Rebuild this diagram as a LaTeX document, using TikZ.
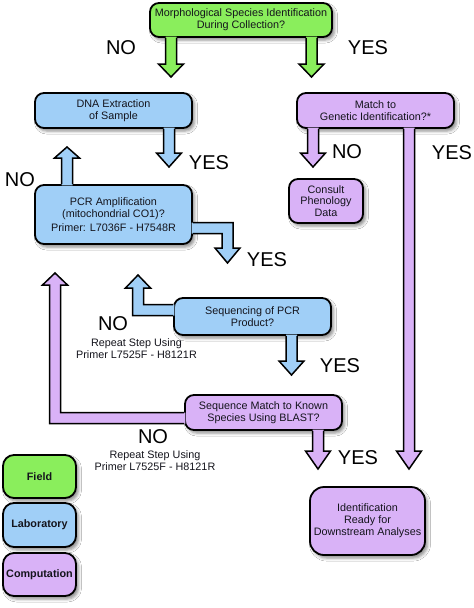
\documentclass[tikz,border=0pt]{standalone}
\usepackage{fontspec}
\setmainfont{Liberation Sans}
\usetikzlibrary{calc,shadows.blur}
\definecolor{fgreen}{RGB}{138,238,92}
\definecolor{lblue}{RGB}{160,207,247}
\definecolor{cpurple}{RGB}{217,178,247}
\definecolor{txt}{RGB}{20,20,28}
\newcommand\boxfont{\fontsize{10.8}{11.8}\selectfont}
\def\sw{5.5pt}
\def\hw{12.5pt}
% straight down arrow: colour, start, tip, head length
\newcommand\darr[4]{%
 \fill[#1] let \p1=(#2), \p2=(#3) in
 (\x2-\sw,\y1+1.2pt) -- (\x2-\sw,\y2+#4) -- (\x2-\hw,\y2+#4) -- (\x2,\y2) -- (\x2+\hw,\y2+#4) -- (\x2+\sw,\y2+#4) -- (\x2+\sw,\y1+1.2pt) -- cycle;
 \draw[aline] let \p1=(#2), \p2=(#3) in
 (\x2-\sw,\y1) -- (\x2-\sw,\y2+#4) -- (\x2-\hw,\y2+#4) -- (\x2,\y2) -- (\x2+\hw,\y2+#4) -- (\x2+\sw,\y2+#4) -- (\x2+\sw,\y1);}
% straight up arrow
\newcommand\uarr[4]{%
 \fill[#1] let \p1=(#2), \p2=(#3) in
 (\x2-\sw,\y1-1.2pt) -- (\x2-\sw,\y2-#4) -- (\x2-\hw,\y2-#4) -- (\x2,\y2) -- (\x2+\hw,\y2-#4) -- (\x2+\sw,\y2-#4) -- (\x2+\sw,\y1-1.2pt) -- cycle;
 \draw[aline] let \p1=(#2), \p2=(#3) in
 (\x2-\sw,\y1) -- (\x2-\sw,\y2-#4) -- (\x2-\hw,\y2-#4) -- (\x2,\y2) -- (\x2+\hw,\y2-#4) -- (\x2+\sw,\y2-#4) -- (\x2+\sw,\y1);}
% right then down: colour, start, bend, tip, head length
\newcommand\rdarr[5]{%
 \fill[#1] let \p1=(#2), \p2=(#3), \p3=(#4) in
 (\x1-1.2pt,\y2+\sw) -- (\x2+\sw,\y2+\sw) -- (\x2+\sw,\y3+#5) -- (\x2+\hw,\y3+#5) -- (\x3,\y3) -- (\x2-\hw,\y3+#5) -- (\x2-\sw,\y3+#5) -- (\x2-\sw,\y2-\sw) -- (\x1-1.2pt,\y2-\sw) -- cycle;
 \draw[aline] let \p1=(#2), \p2=(#3), \p3=(#4) in
 (\x1,\y2+\sw) -- (\x2+\sw,\y2+\sw) -- (\x2+\sw,\y3+#5) -- (\x2+\hw,\y3+#5) -- (\x3,\y3) -- (\x2-\hw,\y3+#5) -- (\x2-\sw,\y3+#5) -- (\x2-\sw,\y2-\sw) -- (\x1,\y2-\sw);}
% left then up
\newcommand\luarr[5]{%
 \fill[#1] let \p1=(#2), \p2=(#3), \p3=(#4) in
 (\x1+1.2pt,\y2-\sw) -- (\x2-\sw,\y2-\sw) -- (\x2-\sw,\y3-#5) -- (\x2-\hw,\y3-#5) -- (\x3,\y3) -- (\x2+\hw,\y3-#5) -- (\x2+\sw,\y3-#5) -- (\x2+\sw,\y2+\sw) -- (\x1+1.2pt,\y2+\sw) -- cycle;
 \draw[aline] let \p1=(#2), \p2=(#3), \p3=(#4) in
 (\x1,\y2-\sw) -- (\x2-\sw,\y2-\sw) -- (\x2-\sw,\y3-#5) -- (\x2-\hw,\y3-#5) -- (\x3,\y3) -- (\x2+\hw,\y3-#5) -- (\x2+\sw,\y3-#5) -- (\x2+\sw,\y2+\sw) -- (\x1,\y2+\sw);}
\begin{document}
\begin{tikzpicture}[x=1pt,y=-1pt,
  box/.style={draw=black, line width=1.8pt, rounded corners=9pt, align=center,
    text=txt, inner sep=0pt, font=\boxfont,
    blur shadow={shadow xshift=2.5pt, shadow yshift=-3pt, shadow blur radius=3pt, shadow opacity=45}},
  aline/.style={draw=black, line width=1.5pt, line join=miter},
  lbl/.style={font=\fontsize{20}{22}\selectfont, text=black, inner sep=0pt},
  note/.style={font=\boxfont, text=txt, align=center, inner sep=0pt},
  legend/.style={box, rounded corners=11pt, font=\boxfont\bfseries, minimum width=73pt}]
\useasboundingbox (0,0) rectangle (474,608);
\fill[white] (0,0) rectangle (474,608);

% boxes
\node[box, fill=fgreen, minimum width=182pt, minimum height=34pt] (top) at (241,20)
  {Morphological Species Identification\\During Collection?};
\node[box, fill=lblue, minimum width=157pt, minimum height=35pt] (dna) at (113.5,110.5)
  {DNA Extraction\\of Sample};
\node[box, fill=cpurple, minimum width=157pt, minimum height=35pt] (match) at (375.5,110.5)
  {Match to\\Genetic Identification?*};
\node[box, fill=lblue, minimum width=157pt, minimum height=59pt] (pcr) at (113.5,214.5)
  {PCR Amplification\\(mitochondrial CO1)?\\[2pt]Primer: L7036F - H7548R};
\node[box, fill=cpurple, minimum width=74pt, minimum height=44pt] (consult) at (326,201)
  {Consult\\Phenology\\Data};
\node[box, fill=lblue, minimum width=157pt, minimum height=37pt] (seq) at (252.5,316.5)
  {Sequencing of PCR\\Product?};
\node[box, fill=cpurple, minimum width=157pt, minimum height=35pt] (blast) at (263.5,412.5)
  {Sequence Match to Known\\Species Using BLAST?};
\node[box, fill=cpurple, rounded corners=14pt, minimum width=115pt, minimum height=68pt] (ident) at (367.5,521)
  {Identification\\Ready for\\Downstream Analyses};
\node[legend, fill=fgreen, minimum height=43pt] (field) at (39.5,476.5) {Field};
\node[legend, fill=lblue, minimum height=44pt] (lab) at (39.5,525) {Laboratory};
\node[legend, fill=cpurple, minimum height=43pt] (comp) at (39.5,574.5) {Computation};

% arrow tips and bends
\coordinate (t1) at (171,77);
\coordinate (t2) at (311.5,77);
\coordinate (t3) at (169,167);
\coordinate (t4) at (67,147);
\coordinate (t5) at (313,167);
\coordinate (t6) at (409,469);
\coordinate (t7) at (318,469);
\coordinate (b1) at (227.5,228);
\coordinate (t8) at (227.5,263);
\coordinate (b2) at (138,310);
\coordinate (t9) at (138,275);
\coordinate (b3) at (55,418);
\coordinate (t10) at (55,273);
\coordinate (t11) at (291.5,375);

% arrows
\darr{fgreen}{t1 |- top.south}{t1}{13pt}
\darr{fgreen}{t2 |- top.south}{t2}{13pt}
\darr{lblue}{t3 |- dna.south}{t3}{14pt}
\uarr{lblue}{t4 |- pcr.north}{t4}{11pt}
\darr{cpurple}{t5 |- match.south}{t5}{14pt}
\darr{cpurple}{t6 |- match.south}{t6}{18pt}
\darr{cpurple}{t7 |- blast.south}{t7}{18pt}
\darr{lblue}{t11 |- seq.south}{t11}{14pt}
\rdarr{lblue}{pcr.east |- b1}{b1}{t8}{15pt}
\luarr{lblue}{seq.west |- b2}{b2}{t9}{13pt}
\luarr{cpurple}{blast.west |- b3}{b3}{t10}{12pt}

% labels
\node[lbl] (l1) at (121,48) {NO};
\node[lbl] (l2) at (368,48) {YES};
\node[lbl] (l3) at (209,163) {YES};
\node[lbl] (l4) at (347,152) {NO};
\node[lbl] (l5) at (452,153) {YES};
\node[lbl] (l6) at (20,180) {NO};
\node[lbl] (l7) at (267,260) {YES};
\node[lbl] (l8) at (113,324) {NO};
\node[note] (n1) at (136.5,348.5) {Repeat Step Using\\Primer L7525F - H8121R};
\node[lbl] (l9) at (340,366) {YES};
\node[lbl] (l10) at (153,437) {NO};
\node[note] (n2) at (155,461) {Repeat Step Using\\Primer L7525F - H8121R};
\node[lbl] (l11) at (358,458) {YES};
\end{tikzpicture}
\end{document}
